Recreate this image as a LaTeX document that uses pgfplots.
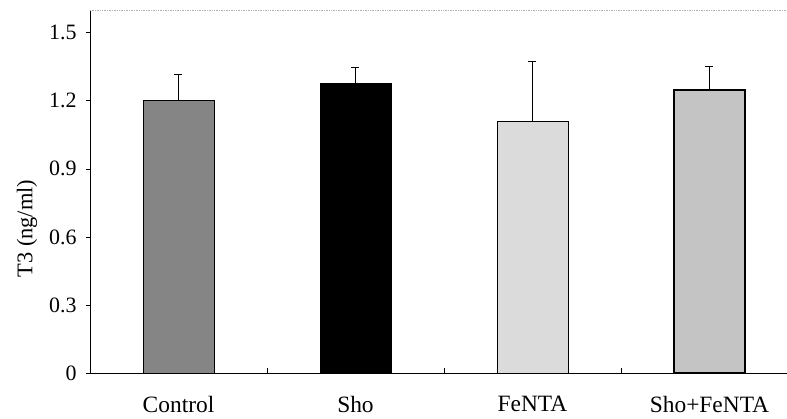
\documentclass[border=0pt]{standalone}
\usepackage{pgfplots}
\pgfplotsset{compat=1.18}
\usepackage{fontspec}
\setmainfont{Liberation Serif}
\definecolor{ctrl}{gray}{0.52}
\definecolor{fen}{gray}{0.86}
\definecolor{shofen}{gray}{0.77}
\begin{document}
\begin{tikzpicture}
\useasboundingbox (0,0) rectangle (787bp,419bp);
\begin{axis}[
  at={(90bp,46bp)}, anchor=south west,
  scale only axis,
  width=697bp, height=363bp,
  xmin=-0.5, xmax=3.438,
  ymin=0, ymax=1.6,
  axis x line*=bottom, axis y line*=left,
  axis line style={black, line width=0.9bp, -},
  xtick={0,1,2,3},
  xticklabels={Control,Sho,FeNTA,Sho+FeNTA},
  major x tick style={draw=none},
  minor xtick={0.5,1.5,2.5},
  minor tick length=5bp,
  minor x tick style={black, line width=0.8bp, yshift=5bp},
  ytick={0,0.3,0.6,0.9,1.2,1.5},
  yticklabels={0,0.3,0.6,0.9,1.2,1.5},
  tick align=outside,
  major tick length=4bp,
  y tick style={black, line width=0.6bp},
  /pgf/number format/assume math mode=true,
  xticklabel style={font=\fontsize{23.5}{26}\selectfont, yshift=-16bp},
  yticklabel style={font=\fontsize{22}{24}\selectfont, xshift=-6bp},
  ylabel={T3 (ng/ml)},
  ylabel style={font=\fontsize{22.5}{26}\selectfont, at={(axis description cs:-0.0904,0.398)}, anchor=center, rotate=0},
  clip=false,
]
\addplot[ybar, bar width=71bp, bar shift=0pt, fill=ctrl, draw=black, line width=0.8bp,
  error bars/.cd, y dir=plus, y explicit, error bar style={black, line width=0.9bp}, error mark options={black, line width=0.9bp, mark size=4bp, rotate=90}]
  coordinates {(0,1.20) +- (0,0.117)};
\addplot[ybar, bar width=71bp, bar shift=0pt, fill=black, draw=black, line width=0.8bp,
  error bars/.cd, y dir=plus, y explicit, error bar style={black, line width=0.9bp}, error mark options={black, line width=0.9bp, mark size=4bp, rotate=90}]
  coordinates {(1,1.276) +- (0,0.069)};
\addplot[ybar, bar width=71bp, bar shift=0pt, fill=fen, draw=black, line width=0.9bp,
  error bars/.cd, y dir=plus, y explicit, error bar style={black, line width=0.9bp}, error mark options={black, line width=0.9bp, mark size=4bp, rotate=90}]
  coordinates {(2,1.107) +- (0,0.267)};
\addplot[ybar, bar width=71bp, bar shift=0pt, fill=shofen, draw=black, line width=1.4bp,
  error bars/.cd, y dir=plus, y explicit, error bar style={black, line width=0.9bp}, error mark options={black, line width=0.9bp, mark size=4bp, rotate=90}]
  coordinates {(3,1.247) +- (0,0.102)};
\draw[gray!60, line width=0.7bp, densely dotted] (rel axis cs:0,1) -- (rel axis cs:1,1);
\end{axis}
\end{tikzpicture}
\end{document}
